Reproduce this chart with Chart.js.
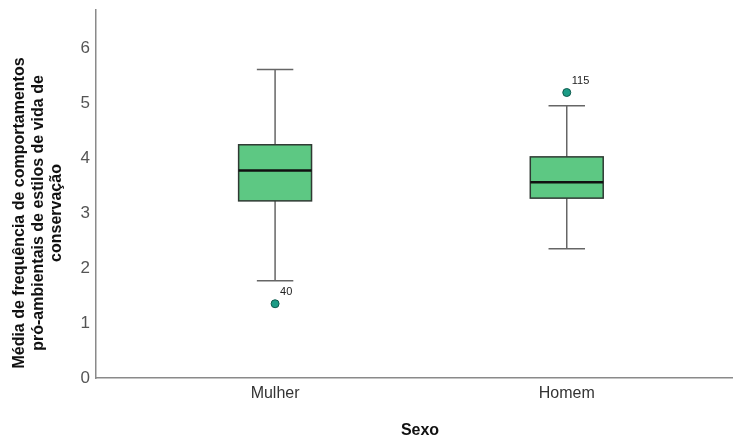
<!DOCTYPE html>
<html>
<head>
<meta charset="utf-8">
<script src="https://cdn.jsdelivr.net/npm/chart.js@4/dist/chart.umd.min.js"></script>
<style>
  html, body { margin: 0; padding: 0; background: #fff; }
  #wrap { width: 733px; height: 441px; position: relative; }
</style>
</head>
<body>
<div id="wrap"><canvas id="c"></canvas></div>
<script>
// Box-plot summary per group
const groups = ['Mulher', 'Homem'];
const whiskerLow = [1.77, 2.35];
const q1 = [3.22, 3.27];
const median = [3.77, 3.56];
const q3 = [4.24, 4.02];
const whiskerHigh = [5.61, 4.95];

// Outliers: group index, value, case number
const outlierGroup = [0, 1];
const outlierValue = [1.35, 5.19];
const outlierCase = ['40', '115'];

const yTicks = [0, 1, 2, 3, 4, 5, 6];
const yTitle = ['Média de frequência de comportamentos', 'pró-ambientais de estilos de vida de', 'conservação'];
const xTitle = 'Sexo';

const FONT = "'Liberation Sans', Arial, sans-serif";

// Draws whiskers, boxes and medians from the summary arrays using the chart scales
const boxPlotPlugin = {
  id: 'boxPlot',
  beforeDatasetsDraw(chart, args, opts) {
    const { ctx, scales: { x, y } } = chart;
    ctx.save();
    groups.forEach((g, i) => {
      const cx = x.getPixelForValue(i + 1);
      const half = (x.getPixelForValue(i + 1 + opts.boxWidth / 2) - cx);
      const capHalf = (x.getPixelForValue(i + 1 + opts.capWidth / 2) - cx);
      const pLow = y.getPixelForValue(whiskerLow[i]);
      const pQ1 = y.getPixelForValue(q1[i]);
      const pMed = y.getPixelForValue(median[i]);
      const pQ3 = y.getPixelForValue(q3[i]);
      const pHigh = y.getPixelForValue(whiskerHigh[i]);

      // whiskers and caps
      ctx.strokeStyle = opts.whiskerColor;
      ctx.lineWidth = opts.whiskerWidth;
      ctx.beginPath();
      ctx.moveTo(cx, pQ1); ctx.lineTo(cx, pLow);
      ctx.moveTo(cx, pQ3); ctx.lineTo(cx, pHigh);
      ctx.moveTo(cx - capHalf, pLow); ctx.lineTo(cx + capHalf, pLow);
      ctx.moveTo(cx - capHalf, pHigh); ctx.lineTo(cx + capHalf, pHigh);
      ctx.stroke();

      // box
      ctx.fillStyle = opts.boxColor;
      ctx.fillRect(cx - half, pQ3, half * 2, pQ1 - pQ3);
      ctx.strokeStyle = opts.boxBorder;
      ctx.lineWidth = opts.boxBorderWidth;
      ctx.strokeRect(cx - half, pQ3, half * 2, pQ1 - pQ3);

      // median
      ctx.strokeStyle = opts.medianColor;
      ctx.lineWidth = opts.medianWidth;
      ctx.beginPath();
      ctx.moveTo(cx - half, pMed); ctx.lineTo(cx + half, pMed);
      ctx.stroke();
    });
    ctx.restore();
  },
  afterDatasetsDraw(chart, args, opts) {
    // case numbers beside the outliers
    const { ctx, scales: { x, y } } = chart;
    ctx.save();
    ctx.fillStyle = '#222';
    ctx.font = '11px ' + FONT;
    ctx.textAlign = 'left';
    ctx.textBaseline = 'middle';
    outlierCase.forEach((c, k) => {
      const px = x.getPixelForValue(outlierGroup[k] + 1);
      const py = y.getPixelForValue(outlierValue[k]);
      ctx.fillText(c, px + 5, py - 12);
    });
    ctx.restore();
  }
};

// Axis titles
const titlesPlugin = {
  id: 'axisTitles',
  afterDraw(chart) {
    const { ctx } = chart;
    ctx.save();
    ctx.fillStyle = '#111';
    ctx.font = 'bold 16px ' + FONT;
    ctx.textAlign = 'center';
    ctx.textBaseline = 'middle';
    ctx.translate(20, 213);
    ctx.rotate(-Math.PI / 2);
    yTitle.forEach((line, i) => ctx.fillText(line, 0, i * 18.5));
    ctx.restore();

    ctx.save();
    ctx.fillStyle = '#111';
    ctx.font = 'bold 16px ' + FONT;
    ctx.textAlign = 'center';
    ctx.textBaseline = 'middle';
    ctx.fillText(xTitle, 420, 431);
    ctx.restore();
  }
};

new Chart(document.getElementById('c'), {
  type: 'scatter',
  data: {
    datasets: [{
      data: outlierValue.map((v, k) => ({ x: outlierGroup[k] + 1, y: v })),
      pointRadius: 4,
      pointHoverRadius: 4,
      backgroundColor: '#1c9c86',
      borderColor: '#0e5a4d',
      borderWidth: 1,
      clip: false
    }]
  },
  options: {
    responsive: true,
    maintainAspectRatio: false,
    devicePixelRatio: 1,
    animation: false,
    events: [],
    layout: { autoPadding: false, padding: { top: 10, right: 0, bottom: 0, left: 0 } },
    plugins: {
      legend: { display: false },
      tooltip: { enabled: false },
      boxPlot: {
        boxWidth: 0.25,
        capWidth: 0.125,
        boxColor: '#5dc883',
        boxBorder: '#2f3a33',
        boxBorderWidth: 1.5,
        medianColor: '#111',
        medianWidth: 2.5,
        whiskerColor: '#666',
        whiskerWidth: 1.5
      }
    },
    scales: {
      x: {
        type: 'linear',
        min: 0.386,
        max: 2.57,
        afterBuildTicks(scale) { scale.ticks = groups.map((g, i) => ({ value: i + 1 })); },
        afterFit(scale) { scale.height = 63; scale.paddingRight = 0; scale.paddingLeft = 0; },
        grid: { display: false, drawTicks: false },
        border: { display: true, color: '#8a8a8a', width: 1.5 },
        ticks: {
          padding: 6,
          color: '#333',
          font: { family: FONT, size: 16 },
          maxRotation: 0,
          callback: (v) => groups[Math.round(v) - 1] || ''
        }
      },
      y: {
        type: 'linear',
        min: 0,
        max: 6.69,
        afterBuildTicks(scale) { scale.ticks = yTicks.map(v => ({ value: v })); },
        afterFit(scale) { scale.width = 96; scale.paddingTop = 0; scale.paddingBottom = 0; },
        grid: { display: false, drawTicks: false },
        border: { display: true, color: '#8a8a8a', width: 1.5 },
        ticks: {
          padding: 6,
          color: '#555',
          font: { family: FONT, size: 17 },
          callback: (v) => String(v)
        }
      }
    }
  },
  plugins: [boxPlotPlugin, titlesPlugin]
});
</script>
</body>
</html>
